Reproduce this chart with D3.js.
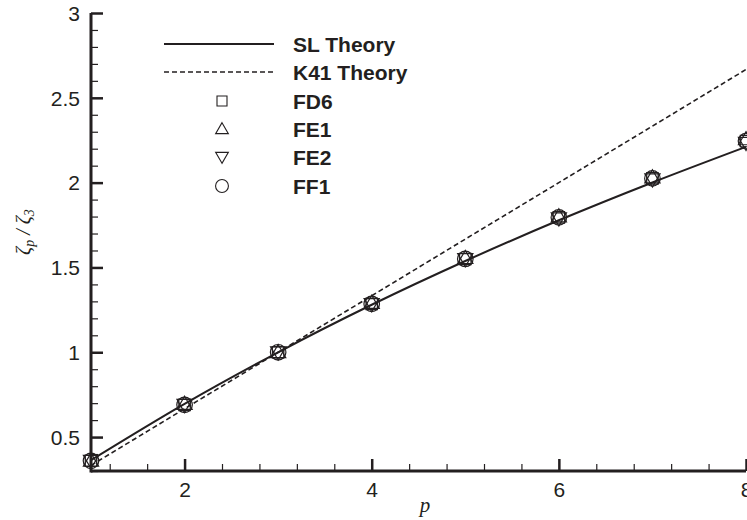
<!DOCTYPE html>
<html><head><meta charset="utf-8">
<script src="https://cdn.jsdelivr.net/npm/d3@7"></script>
<style>body{margin:0;background:#fff;} svg{display:block;}</style>
</head><body>
<svg id="c" width="747" height="520"></svg>
<script>
// ---- data ----
const pValues = [1, 2, 3, 4, 5, 6, 7, 8];
const slTheory = [0.364, 0.696, 1.0, 1.280, 1.538, 1.778, 2.001, 2.211];
const k41Theory = [0.333, 0.667, 1.0, 1.333, 1.667, 2.0, 2.333, 2.667];
const fd6 = [0.36, 0.69, 1.0, 1.285, 1.55, 1.795, 2.025, 2.245];
const fe1 = [0.36, 0.695, 1.0, 1.29, 1.555, 1.80, 2.03, 2.255];
const fe2 = [0.36, 0.69, 1.0, 1.285, 1.55, 1.79, 2.02, 2.235];
const ff1 = [0.36, 0.69, 1.0, 1.285, 1.55, 1.795, 2.025, 2.245];
const xTicks = [2, 4, 6, 8];
const yTicks = [0.5, 1, 1.5, 2, 2.5, 3];
const legendLabels = ["SL Theory", "K41 Theory", "FD6", "FE1", "FE2", "FF1"];

const svg = d3.select("#c");
const x = d3.scaleLinear().domain([1, 8]).range([91, 746]);
const y = d3.scaleLinear().domain([0.3, 3]).range([471, 13]);
const ink = "#231f20";

// axes
const xMinor = d3.range(1.2, 8.0001, 0.4).filter(v => Math.abs(v/2 - Math.round(v/2)) > 1e-6);
const yMinor = d3.range(0.3, 3.0001, 0.1).filter(v => Math.abs(v*2 - Math.round(v*2)) > 1e-6);

const gx = svg.append("g").attr("transform", `translate(0,${y(0.3)})`);
gx.call(d3.axisTop(x).tickValues(xMinor).tickSize(7).tickFormat(""));
gx.selectAll(".tick line").attr("stroke", ink).attr("stroke-width", 1.2);
const gx2 = svg.append("g").attr("transform", `translate(0,${y(0.3)})`);
gx2.call(d3.axisTop(x).tickValues(xTicks).tickSize(12).tickFormat(""));
gx2.selectAll(".tick line").attr("stroke", ink).attr("stroke-width", 2.5);
svg.selectAll(".domain").remove();
gx2.selectAll(".tick").append("text")
  .attr("y", 26).attr("text-anchor", "middle")
  .attr("font-family", "Liberation Sans, Arial, sans-serif").attr("font-size", 21)
  .attr("fill", ink).text(d => d);

const gy = svg.append("g").attr("transform", `translate(${x(1)},0)`);
gy.call(d3.axisRight(y).tickValues(yMinor).tickSize(7).tickFormat(""));
gy.selectAll(".tick line").attr("stroke", ink).attr("stroke-width", 1.2);
const gy2 = svg.append("g").attr("transform", `translate(${x(1)},0)`);
gy2.call(d3.axisRight(y).tickValues(yTicks).tickSize(12).tickFormat(""));
gy2.selectAll(".tick line").attr("stroke", ink).attr("stroke-width", 2.5);
svg.selectAll(".domain").remove();
gy2.selectAll(".tick").append("text")
  .attr("x", -11).attr("dy", "0.35em").attr("text-anchor", "end")
  .attr("font-family", "Liberation Sans, Arial, sans-serif").attr("font-size", 21)
  .attr("fill", ink).text(d => d);

// axis lines
svg.append("line").attr("x1", x(1)).attr("x2", x(8)).attr("y1", y(0.3)).attr("y2", y(0.3))
  .attr("stroke", ink).attr("stroke-width", 3);
svg.append("line").attr("x1", x(1)).attr("x2", x(1)).attr("y1", y(0.3) + 1.5).attr("y2", y(3))
  .attr("stroke", ink).attr("stroke-width", 3);

// lines
const lineSL = d3.line().x((d, i) => x(pValues[i])).y(d => y(d)).curve(d3.curveMonotoneX);
svg.append("path").attr("d", lineSL(slTheory)).attr("fill", "none").attr("stroke", ink).attr("stroke-width", 2);
const lineK = d3.line().x((d, i) => x(pValues[i])).y(d => y(d));
svg.append("path").attr("d", lineK(k41Theory)).attr("fill", "none").attr("stroke", ink)
  .attr("stroke-width", 1.6).attr("stroke-dasharray", "5,3");

// markers
const sym = {
  sq: d3.symbol().type(d3.symbolSquare).size(130),
  up: d3.symbol().type(d3.symbolTriangle).size(100),
  circ: d3.symbol().type(d3.symbolCircle).size(190)
};
function drawMarker(g, type, cx, cy) {
  const p = g.append("path").attr("fill", "none").attr("stroke", ink).attr("stroke-width", 1.2);
  if (type === "sq") p.attr("d", sym.sq()).attr("transform", `translate(${cx},${cy})`);
  if (type === "up") p.attr("d", sym.up()).attr("transform", `translate(${cx},${cy + 1})`);
  if (type === "down") p.attr("d", sym.up()).attr("transform", `translate(${cx},${cy - 1}) rotate(180)`);
  if (type === "circ") p.attr("d", sym.circ()).attr("transform", `translate(${cx},${cy})`);
}
const series = [[fd6, "sq"], [fe1, "up"], [fe2, "down"], [ff1, "circ"]];
const mg = svg.append("g");
series.forEach(([vals, t]) => vals.forEach((v, i) => drawMarker(mg, t, x(pValues[i]), y(v))));

// legend
const lg = svg.append("g");
const lf = "Liberation Sans, Arial, sans-serif";
lg.append("line").attr("x1", 164).attr("x2", 274).attr("y1", 44).attr("y2", 44).attr("stroke", ink).attr("stroke-width", 2);
lg.append("line").attr("x1", 164).attr("x2", 274).attr("y1", 72).attr("y2", 72).attr("stroke", ink)
  .attr("stroke-width", 1.6).attr("stroke-dasharray", "5,3");
const legY = [44, 72, 101, 129, 157, 186];
const legSym = [null, null, "sq", "up", "down", "circ"];
const ls = { sq: d3.symbol().type(d3.symbolSquare).size(100), up: d3.symbol().type(d3.symbolTriangle).size(70),
  circ: d3.symbol().type(d3.symbolCircle).size(130) };
legendLabels.forEach((t, i) => {
  lg.append("text").attr("x", 293).attr("y", legY[i]).attr("dy", "0.36em")
    .attr("font-family", lf).attr("font-weight", "bold").attr("font-size", 21).attr("fill", ink).text(t);
  if (legSym[i]) {
    const p = lg.append("path").attr("fill", "none").attr("stroke", ink).attr("stroke-width", 1.1);
    if (legSym[i] === "sq") p.attr("d", ls.sq()).attr("transform", `translate(222,${legY[i]})`);
    if (legSym[i] === "up") p.attr("d", ls.up()).attr("transform", `translate(222,${legY[i] + 1})`);
    if (legSym[i] === "down") p.attr("d", ls.up()).attr("transform", `translate(222,${legY[i] - 1}) rotate(180)`);
    if (legSym[i] === "circ") p.attr("d", ls.circ()).attr("transform", `translate(222,${legY[i]})`);
  }
});

// axis titles
svg.append("text").attr("x", 425).attr("y", 512).attr("text-anchor", "middle")
  .attr("font-family", "Liberation Serif, Times New Roman, serif").attr("font-style", "italic")
  .attr("font-size", 21).attr("fill", ink).text("p");
const yl = svg.append("text").attr("transform", "translate(30,232) rotate(-90)").attr("text-anchor", "middle")
  .attr("font-family", "Liberation Serif, Times New Roman, serif").attr("font-style", "italic")
  .attr("font-size", 20).attr("fill", ink);
yl.append("tspan").text("ζ");
yl.append("tspan").attr("font-size", 14).attr("dy", 4).text("p");
yl.append("tspan").attr("dy", -4).text(" / ζ");
yl.append("tspan").attr("font-size", 14).attr("dy", 4).text("3");
</script>
</body></html>
